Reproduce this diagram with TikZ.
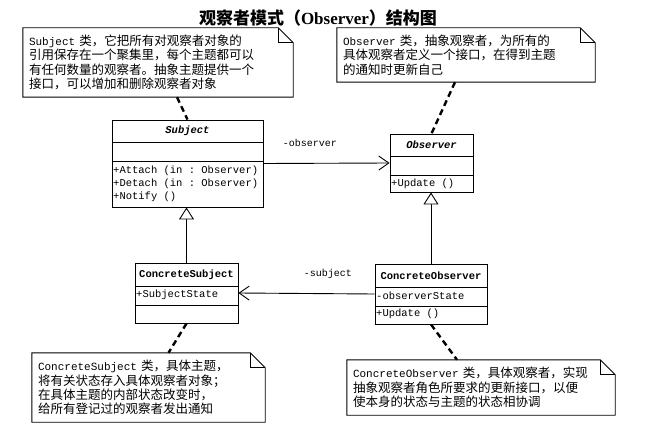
\documentclass[tikz,border=0pt]{standalone}
\usepackage{fontspec}
\setmainfont{Liberation Serif}
\setmonofont{Liberation Mono}
\newfontfamily\cjk{Noto Sans CJK SC}
\newcommand{\lat}[1]{{\ttfamily\fontsize{11}{14.3}\selectfont #1}}
\usetikzlibrary{arrows.meta}
\tikzset{
  classbox/.style={draw, line width=0.9pt, inner sep=0pt, fill=white},
  cname/.style={inner sep=0pt, font=\ttfamily\fontsize{10.5}{12}\selectfont\bfseries},
  member/.style={anchor=west, inner sep=0pt, xshift=1pt, font=\ttfamily\fontsize{10.5}{12}\selectfont},
  divider/.style={line width=0.9pt},
  notebox/.style={inner xsep=6pt, inner ysep=0pt, align=left, font=\cjk\fontsize{12.5}{14.3}\selectfont},
  noteline/.style={line width=0.9pt},
  notelink/.style={line width=2.4pt, dash pattern=on 6pt off 4pt},
  assoc/.style={line width=0.9pt, -{Straight Barb[length=10pt,width=14pt,line width=0.9pt]}},
  inherit/.style={line width=0.9pt, -{Triangle[open,length=12pt,width=15pt,line width=0.9pt,fill=white]}},
  lbl/.style={inner sep=0pt, font=\ttfamily\fontsize{10}{12}\selectfont},
}
\newcommand{\notefold}[1]{%
  \draw[noteline] (#1.south west) -- (#1.north west) -- ([xshift=-15pt]#1.north east)
    -- ([yshift=-15pt]#1.north east) -- (#1.south east) -- cycle;
  \draw[noteline] ([xshift=-15pt]#1.north east) -- ([xshift=-15pt,yshift=-15pt]#1.north east)
    -- ([yshift=-15pt]#1.north east);}
\begin{document}
\begin{tikzpicture}[x=1pt,y=-1pt]
\useasboundingbox[fill=white] (0,0) rectangle (645,425);

% title
\node[inner sep=0pt] (title) at (318,18) {{\cjk\fontsize{17}{20}\selectfont\bfseries 观察者模式（}{\fontsize{17}{20}\selectfont\bfseries Observer}{\cjk\fontsize{17}{20}\selectfont\bfseries ）结构图}};

% classes
\node[classbox, minimum width=151pt, minimum height=87pt] (subj) at (187.5,163.5) {};
\draw[divider] (subj.west |- 0,142) -- (subj.east |- 0,142);
\draw[divider] (subj.west |- 0,161) -- (subj.east |- 0,161);
\node[cname, font=\ttfamily\fontsize{10.5}{12}\selectfont\bfseries\itshape] (subjname) at (187.5,131) {Subject};
\node[member] (m1) at (112,171) {+Attach (in\ : Observer)};
\node[member] (m2) at (112,184) {+Detach (in\ : Observer)};
\node[member] (m3) at (112,197) {+Notify ()};

\node[classbox, minimum width=83pt, minimum height=58pt] (obs) at (431.5,163) {};
\draw[divider] (obs.west |- 0,156) -- (obs.east |- 0,156);
\draw[divider] (obs.west |- 0,175) -- (obs.east |- 0,175);
\node[cname, font=\ttfamily\fontsize{10.5}{12}\selectfont\bfseries\itshape] (obsname) at (431.5,145) {Observer};
\node[member] (m4) at (390,184) {+Update ()};

\node[classbox, minimum width=103pt, minimum height=60pt] (csubj) at (186.5,293) {};
\draw[divider] (csubj.west |- 0,286) -- (csubj.east |- 0,286);
\draw[divider] (csubj.west |- 0,305) -- (csubj.east |- 0,305);
\node[cname] (csubjname) at (186.5,275) {ConcreteSubject};
\node[member] (m5) at (135,295) {+SubjectState};

\node[classbox, minimum width=112pt, minimum height=60pt] (cobs) at (431,294) {};
\draw[divider] (cobs.west |- 0,287) -- (cobs.east |- 0,287);
\draw[divider] (cobs.west |- 0,306) -- (cobs.east |- 0,306);
\node[cname] (cobsname) at (431,276) {ConcreteObserver};
\node[member] (m6) at (375,296) {-observerState};
\node[member] (m7) at (375,314) {+Update ()};

% relations
\draw[assoc] (subj.east) -- (obs.west);
\node[lbl] (lobs) at (310,143) {-observer};
\draw[assoc] (cobs.west) -- (csubj.east);
\node[lbl] (lsub) at (328,274) {-subject};
\draw[inherit] (csubj.north) -- (csubj.north |- subj.south);
\draw[inherit] (cobs.north) -- (cobs.north |- obs.south);

% notes
\node[notebox, text width=258pt, minimum height=69pt] (n1) at (158,62.5)
  {\lat{Subject} 类，它把所有对观察者对象的\\引用保存在一个聚集里，每个主题都可以\\有任何数量的观察者。抽象主题提供一个\\接口，可以增加和删除观察者对象};
\notefold{n1}
\node[notebox, text width=246pt, minimum height=54pt] (n2) at (466,55)
  {\lat{Observer} 类，抽象观察者，为所有的\\具体观察者定义一个接口，在得到主题\\的通知时更新自己};
\notefold{n2}
\node[notebox, text width=221pt, minimum height=69pt] (n3) at (148.5,387.5)
  {\lat{ConcreteSubject} 类，具体主题，\\将有关状态存入具体观察者对象；\\在具体主题的内部状态改变时，\\给所有登记过的观察者发出通知};
\notefold{n3}
\node[notebox, text width=256pt, minimum height=55pt] (n4) at (481,387.5)
  {\lat{ConcreteObserver} 类，具体观察者，实现\\抽象观察者角色所要求的更新接口，以便\\使本身的状态与主题的状态相协调};
\notefold{n4}

\draw[notelink] ([xshift=19pt]n1.south) -- (subj.north);
\draw[notelink] ([xshift=-11pt]n2.south) -- (obs.north);
\draw[notelink] (csubj.south) -- ([xshift=20pt]n3.north);
\draw[notelink] (cobs.south) -- ([xshift=-24pt]n4.north);
\end{tikzpicture}
\end{document}
